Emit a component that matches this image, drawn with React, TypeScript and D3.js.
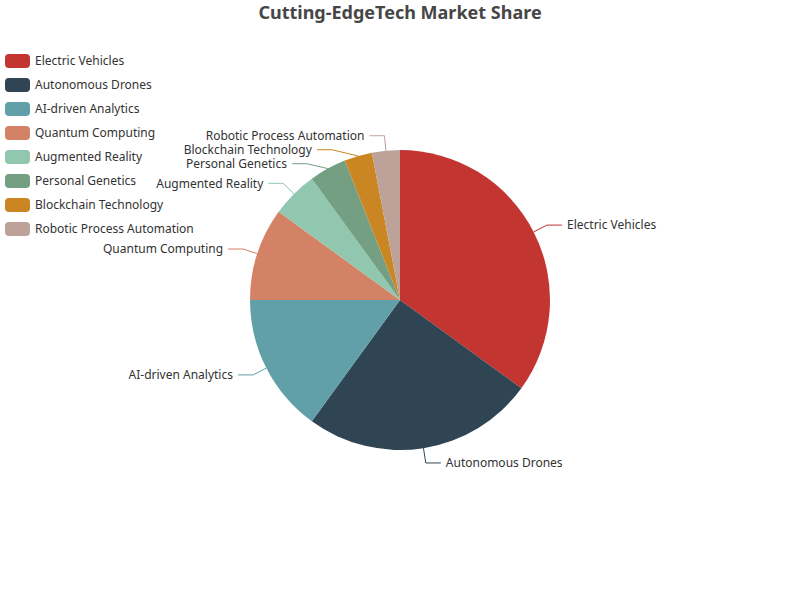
import React from 'react'
import * as d3 from 'd3'

const categories = [
  'Electric Vehicles',
  'Autonomous Drones',
  'AI-driven Analytics',
  'Quantum Computing',
  'Augmented Reality',
  'Personal Genetics',
  'Blockchain Technology',
  'Robotic Process Automation'
]
const shares = [35, 25, 15, 10, 5, 4, 3, 3]
const palette = ['#c23531', '#2f4554', '#61a0a8', '#d48265', '#91c7ae', '#749f83', '#ca8622', '#bda29a']

const FONT = '"Microsoft YaHei", "Noto Sans", sans-serif'

const width = 800
const height = 600
const cx = 400
const cy = 300
const radius = 150
const len1 = 15
const len2 = 15
const lineGap = 14

const App = () => {
  const data = categories.map((name, i) => ({ name, value: shares[i], color: palette[i] }))
  const arcs = d3.pie<any>().sort(null).value(d => d.value)(data)
  const arcGen = d3.arc<any>().innerRadius(0).outerRadius(radius)

  // label layout: edge point -> elbow -> end, push apart vertically per side
  const labels = arcs.map(a => {
    const mid = (a.startAngle + a.endAngle) / 2
    const sx = cx + radius * Math.sin(mid)
    const sy = cy - radius * Math.cos(mid)
    const ex = cx + (radius + len1) * Math.sin(mid)
    const ey = cy - (radius + len1) * Math.cos(mid)
    const right = Math.sin(mid) >= 0
    return { a, sx, sy, ex, ey, y: ey, right, shifted: false }
  })

  ;[true, false].forEach(side => {
    const list = labels.filter(l => l.right === side).sort((p, q) => p.y - q.y)
    for (let i = 1; i < list.length; i++) {
      if (list[i].y - list[i - 1].y < lineGap) {
        list[i].y = list[i - 1].y + lineGap
        list[i].shifted = true
      }
    }
    list.forEach(l => {
      if (l.shifted) {
        const R = radius + len1
        const dy = l.y - cy
        const dx = Math.sqrt(Math.max(0, R * R - dy * dy))
        l.ex = side ? cx + dx : cx - dx
      }
      l.ey = l.y
    })
  })

  return (
    <svg width={width} height={height} style={{ display: 'block', position: 'absolute', left: 0, top: 0 }}>
      <rect width={width} height={height} fill="#fff" />
      <text x={400} y={19} textAnchor="middle" fontFamily={FONT} fontSize={18} fontWeight="bold" fill="#464646">
        Cutting-EdgeTech Market Share
      </text>

      <g>
        {arcs.map((a, i) => (
          <path key={i} d={arcGen(a) || ''} transform={`translate(${cx},${cy})`} fill={a.data.color} />
        ))}
      </g>

      <g>
        {labels.map((l, i) => {
          const dir = l.right ? 1 : -1
          const tx = l.ex + dir * len2
          return (
            <g key={i}>
              <polyline
                points={`${l.sx},${l.sy} ${l.ex},${l.ey} ${tx},${l.ey}`}
                fill="none"
                stroke={l.a.data.color}
                strokeWidth={1}
              />
              <text
                x={tx + dir * 5}
                y={l.ey}
                dy="0.35em"
                textAnchor={l.right ? 'start' : 'end'}
                fontFamily={FONT}
                fontSize={12}
                fill="#333"
              >
                {l.a.data.name}
              </text>
            </g>
          )
        })}
      </g>

      <g>
        {data.map((d, i) => (
          <g key={i} transform={`translate(5,${54 + i * 24})`}>
            <rect width={25} height={14} rx={4} ry={4} fill={d.color} />
            <text x={30} y={7} dy="0.35em" fontFamily={FONT} fontSize={12} fill="#333">
              {d.name}
            </text>
          </g>
        ))}
      </g>
    </svg>
  )
}

export default App
